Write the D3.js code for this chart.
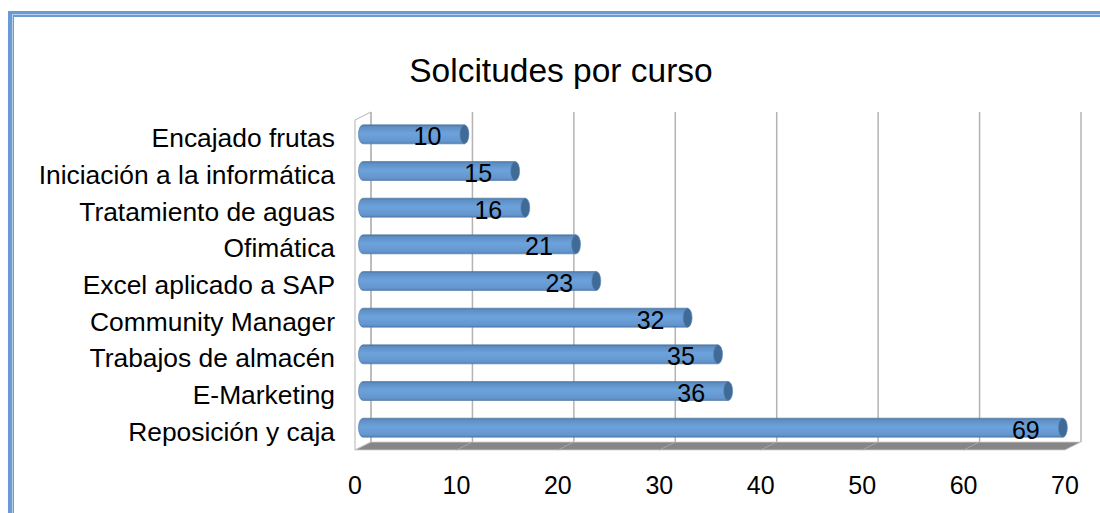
<!DOCTYPE html>
<html>
<head>
<meta charset="utf-8">
<script src="https://cdn.jsdelivr.net/npm/d3@7"></script>
<style>
  body { margin: 0; background: #fff; }
  svg { display: block; font-family: "Liberation Sans", Arial, sans-serif; }
</style>
</head>
<body>
<svg id="chart" width="1100" height="513"></svg>
<script>
var cursos = ["Encajado frutas", "Iniciación a la informática", "Tratamiento de aguas",
  "Ofimática", "Excel aplicado a SAP", "Community Manager", "Trabajos de almacén",
  "E-Marketing", "Reposición y caja"];
var solicitudes = [10, 15, 16, 21, 23, 32, 35, 36, 69];
var ticks = [0, 10, 20, 30, 40, 50, 60, 70];

var svg = d3.select("#chart");
var w = 1100, h = 513;

// depth offset between front and back plane of the 3d box
var dx = 16, dy = 8;

var xMid = d3.scaleLinear().domain([0, 70]).range([363, 1073]);
var xBack = function(v){ return xMid(v) + dx / 2; };
var xFront = function(v){ return xMid(v) - dx / 2; };
var yMid = d3.scaleBand().domain(cursos).range([116, 446]);
var topBack = 112, botBack = 442;

var defs = svg.append("defs");
var grad = defs.append("linearGradient").attr("id", "barGrad")
  .attr("x1", 0).attr("y1", 0).attr("x2", 0).attr("y2", 1);
grad.append("stop").attr("offset", "0%").attr("stop-color", "#4d79a8");
grad.append("stop").attr("offset", "12%").attr("stop-color", "#5f90c6");
grad.append("stop").attr("offset", "45%").attr("stop-color", "#6ca2dc");
grad.append("stop").attr("offset", "85%").attr("stop-color", "#6597cf");
grad.append("stop").attr("offset", "100%").attr("stop-color", "#5483b8");

// frame
svg.append("rect").attr("x", 8).attr("y", 11).attr("width", w - 8).attr("height", 6).attr("fill", "#6b9bd2");
svg.append("rect").attr("x", 8).attr("y", 11).attr("width", 6).attr("height", h - 11).attr("fill", "#6b9bd2");
svg.append("rect").attr("x", 12).attr("y", 14).attr("width", w - 12).attr("height", 1).attr("fill", "#b7d0ee");
svg.append("rect").attr("x", 12).attr("y", 14).attr("width", 1).attr("height", h - 14).attr("fill", "#b7d0ee");

// title
svg.append("text").attr("x", 561).attr("y", 82).attr("text-anchor", "middle")
  .attr("font-size", 33.5).attr("fill", "#000").text("Solcitudes por curso");

// left wall
svg.append("path")
  .attr("d", "M" + xFront(0) + "," + (topBack + dy) + "L" + xBack(0) + "," + topBack +
    "L" + xBack(0) + "," + botBack + "L" + xFront(0) + "," + (botBack + dy) + "Z")
  .attr("fill", "#fff").attr("stroke", "#b3b3b3").attr("stroke-width", 1);

// back wall gridlines
svg.selectAll("line.grid").data(ticks).enter().append("line").attr("class", "grid")
  .attr("x1", function(d){ return xBack(d); }).attr("x2", function(d){ return xBack(d); })
  .attr("y1", topBack).attr("y2", botBack)
  .attr("stroke", "#b3b3b3").attr("stroke-width", 1.5);

// floor
svg.append("path")
  .attr("d", "M" + xBack(0) + "," + botBack + "L" + xBack(70) + "," + botBack +
    "L" + xFront(70) + "," + (botBack + dy) + "L" + xFront(0) + "," + (botBack + dy) + "Z")
  .attr("fill", "#868686").attr("stroke", "#cfcfcf").attr("stroke-width", 0.8);
svg.selectAll("line.floor").data(ticks.slice(1, -1)).enter().append("line").attr("class", "floor")
  .attr("x1", function(d){ return xBack(d); }).attr("x2", function(d){ return xFront(d); })
  .attr("y1", botBack).attr("y2", botBack + dy)
  .attr("stroke", "#a6a6a6").attr("stroke-width", 1);

// bars (cylinders)
var barH = 19, rx = 4.5;
var rows = cursos.map(function(c, i){ return {curso: c, valor: solicitudes[i]}; });
var bars = svg.selectAll("g.bar").data(rows).enter().append("g").attr("class", "bar");
bars.append("path")
  .attr("d", function(d){
    var cy = yMid(d.curso) + yMid.bandwidth() / 2;
    var x0 = xMid(0), x1 = xMid(d.valor), r = barH / 2;
    return "M" + x1 + "," + (cy - r) + "L" + x0 + "," + (cy - r) +
      "A" + rx + "," + r + " 0 0 0 " + x0 + "," + (cy + r) +
      "L" + x1 + "," + (cy + r) + "Z";
  })
  .attr("fill", "url(#barGrad)").attr("stroke", "#4a74a0").attr("stroke-width", 0.6);
bars.append("ellipse")
  .attr("cx", function(d){ return xMid(d.valor); })
  .attr("cy", function(d){ return yMid(d.curso) + yMid.bandwidth() / 2; })
  .attr("rx", rx).attr("ry", barH / 2)
  .attr("fill", "#416b97").attr("stroke", "#5b88b8").attr("stroke-width", 0.6);
bars.append("text")
  .attr("x", function(d){ return xMid(d.valor) - 37; })
  .attr("y", function(d){ return yMid(d.curso) + yMid.bandwidth() / 2 + 11; })
  .attr("text-anchor", "middle").attr("font-size", 25).attr("fill", "#000")
  .text(function(d){ return d.valor; });

// category labels
svg.selectAll("text.cat").data(cursos).enter().append("text").attr("class", "cat")
  .attr("x", 335)
  .attr("y", function(d){ return yMid(d) + yMid.bandwidth() / 2 + 13; })
  .attr("text-anchor", "end").attr("font-size", 26.4).attr("fill", "#000")
  .text(function(d){ return d; });

// x tick labels
svg.selectAll("text.tick").data(ticks).enter().append("text").attr("class", "tick")
  .attr("x", function(d){ return xFront(d); }).attr("y", 494)
  .attr("text-anchor", "middle").attr("font-size", 25).attr("fill", "#000")
  .text(function(d){ return d; });
</script>
</body>
</html>
